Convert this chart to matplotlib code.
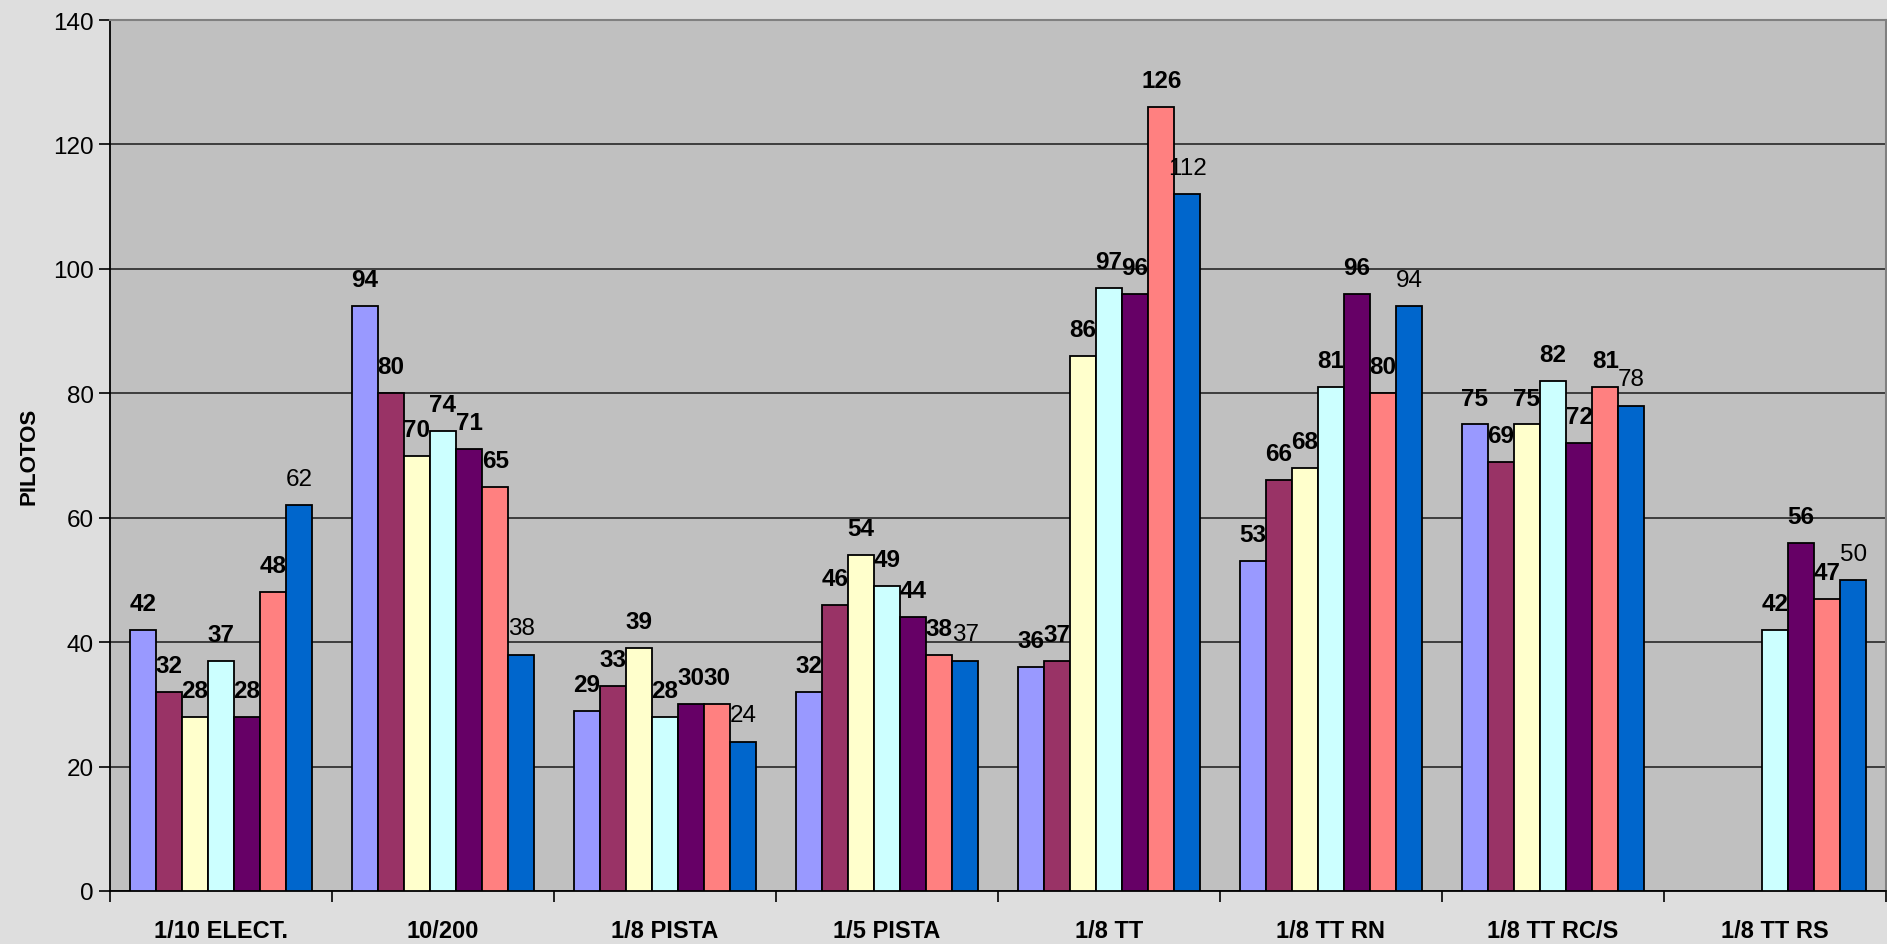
import numpy as np
import matplotlib.pyplot as plt

plt.rcParams['font.family'] = ['Liberation Sans', 'DejaVu Sans']

# -------------------------
# data
# -------------------------
categories = ["1/10 ELECT.", "10/200", "1/8 PISTA", "1/5 PISTA",
              "1/8 TT", "1/8 TT RN", "1/8 TT RC/S", "1/8 TT RS"]
s1 = [42, 94, 29, 32, 36, 53, 75, np.nan]
s2 = [32, 80, 33, 46, 37, 66, 69, np.nan]
s3 = [28, 70, 39, 54, 86, 68, 75, np.nan]
s4 = [37, 74, 28, 49, 97, 81, 82, 42]
s5 = [28, 71, 30, 44, 96, 96, 72, 56]
s6 = [48, 65, 30, 38, 126, 80, 81, 47]
s7 = [62, 38, 24, 37, 112, 94, 78, 50]
series = [s1, s2, s3, s4, s5, s6, s7]
colors = ["#9999FF", "#993366", "#FFFFCC", "#CCFFFF", "#660066", "#FF8080", "#0066CC"]
bold_labels = [True, True, True, True, True, True, False]

fig = plt.figure(figsize=(18.87, 9.45), dpi=100)
fig.patch.set_facecolor("#DEDEDE")
ax = fig.add_axes([110/1887, 53/945, 1776/1887, 871/945])
ax.set_facecolor("#C0C0C0")

n = len(series)
w = 1 / 8.5
x = np.arange(len(categories)) + 0.5
for j, (vals, col) in enumerate(zip(series, colors)):
    xs = x + (j - (n - 1) / 2) * w
    vals = np.array(vals, dtype=float)
    ok = ~np.isnan(vals)
    ax.bar(xs[ok], vals[ok], width=w, color=col, edgecolor="black",
           linewidth=1.3, zorder=3)
    for xi, v in zip(xs[ok], vals[ok]):
        ax.annotate(f"{int(v)}", (xi, v), xytext=(0, 19), textcoords="offset points",
                    ha="center", va="center", fontsize=17.5,
                    fontweight="bold" if bold_labels[j] else "normal", zorder=4)

ax.set_xlim(0, len(categories))
ax.set_ylim(0, 140)
ax.set_yticks(np.arange(0, 141, 20))
ax.yaxis.grid(True, color="#333333", linewidth=1.3, zorder=0)
ax.tick_params(axis="y", labelsize=17.5, length=8, width=1.2, direction="out")

ax.set_xticks(x)
ax.set_xticklabels(categories, fontsize=17, fontweight="bold")
ax.set_xticks(np.arange(0, len(categories) + 1), minor=True)
ax.tick_params(axis="x", which="major", length=0, pad=20)
ax.tick_params(axis="x", which="minor", length=8, width=1.2, direction="out")

ax.set_ylabel("PILOTOS", fontsize=16, fontweight="bold", labelpad=10)

for s in ["top", "right"]:
    ax.spines[s].set_color("#808080")
    ax.spines[s].set_linewidth(1.5)
for s in ["left", "bottom"]:
    ax.spines[s].set_color("black")
    ax.spines[s].set_linewidth(1.3)

fig.savefig("out.png", dpi=100, facecolor=fig.get_facecolor())
